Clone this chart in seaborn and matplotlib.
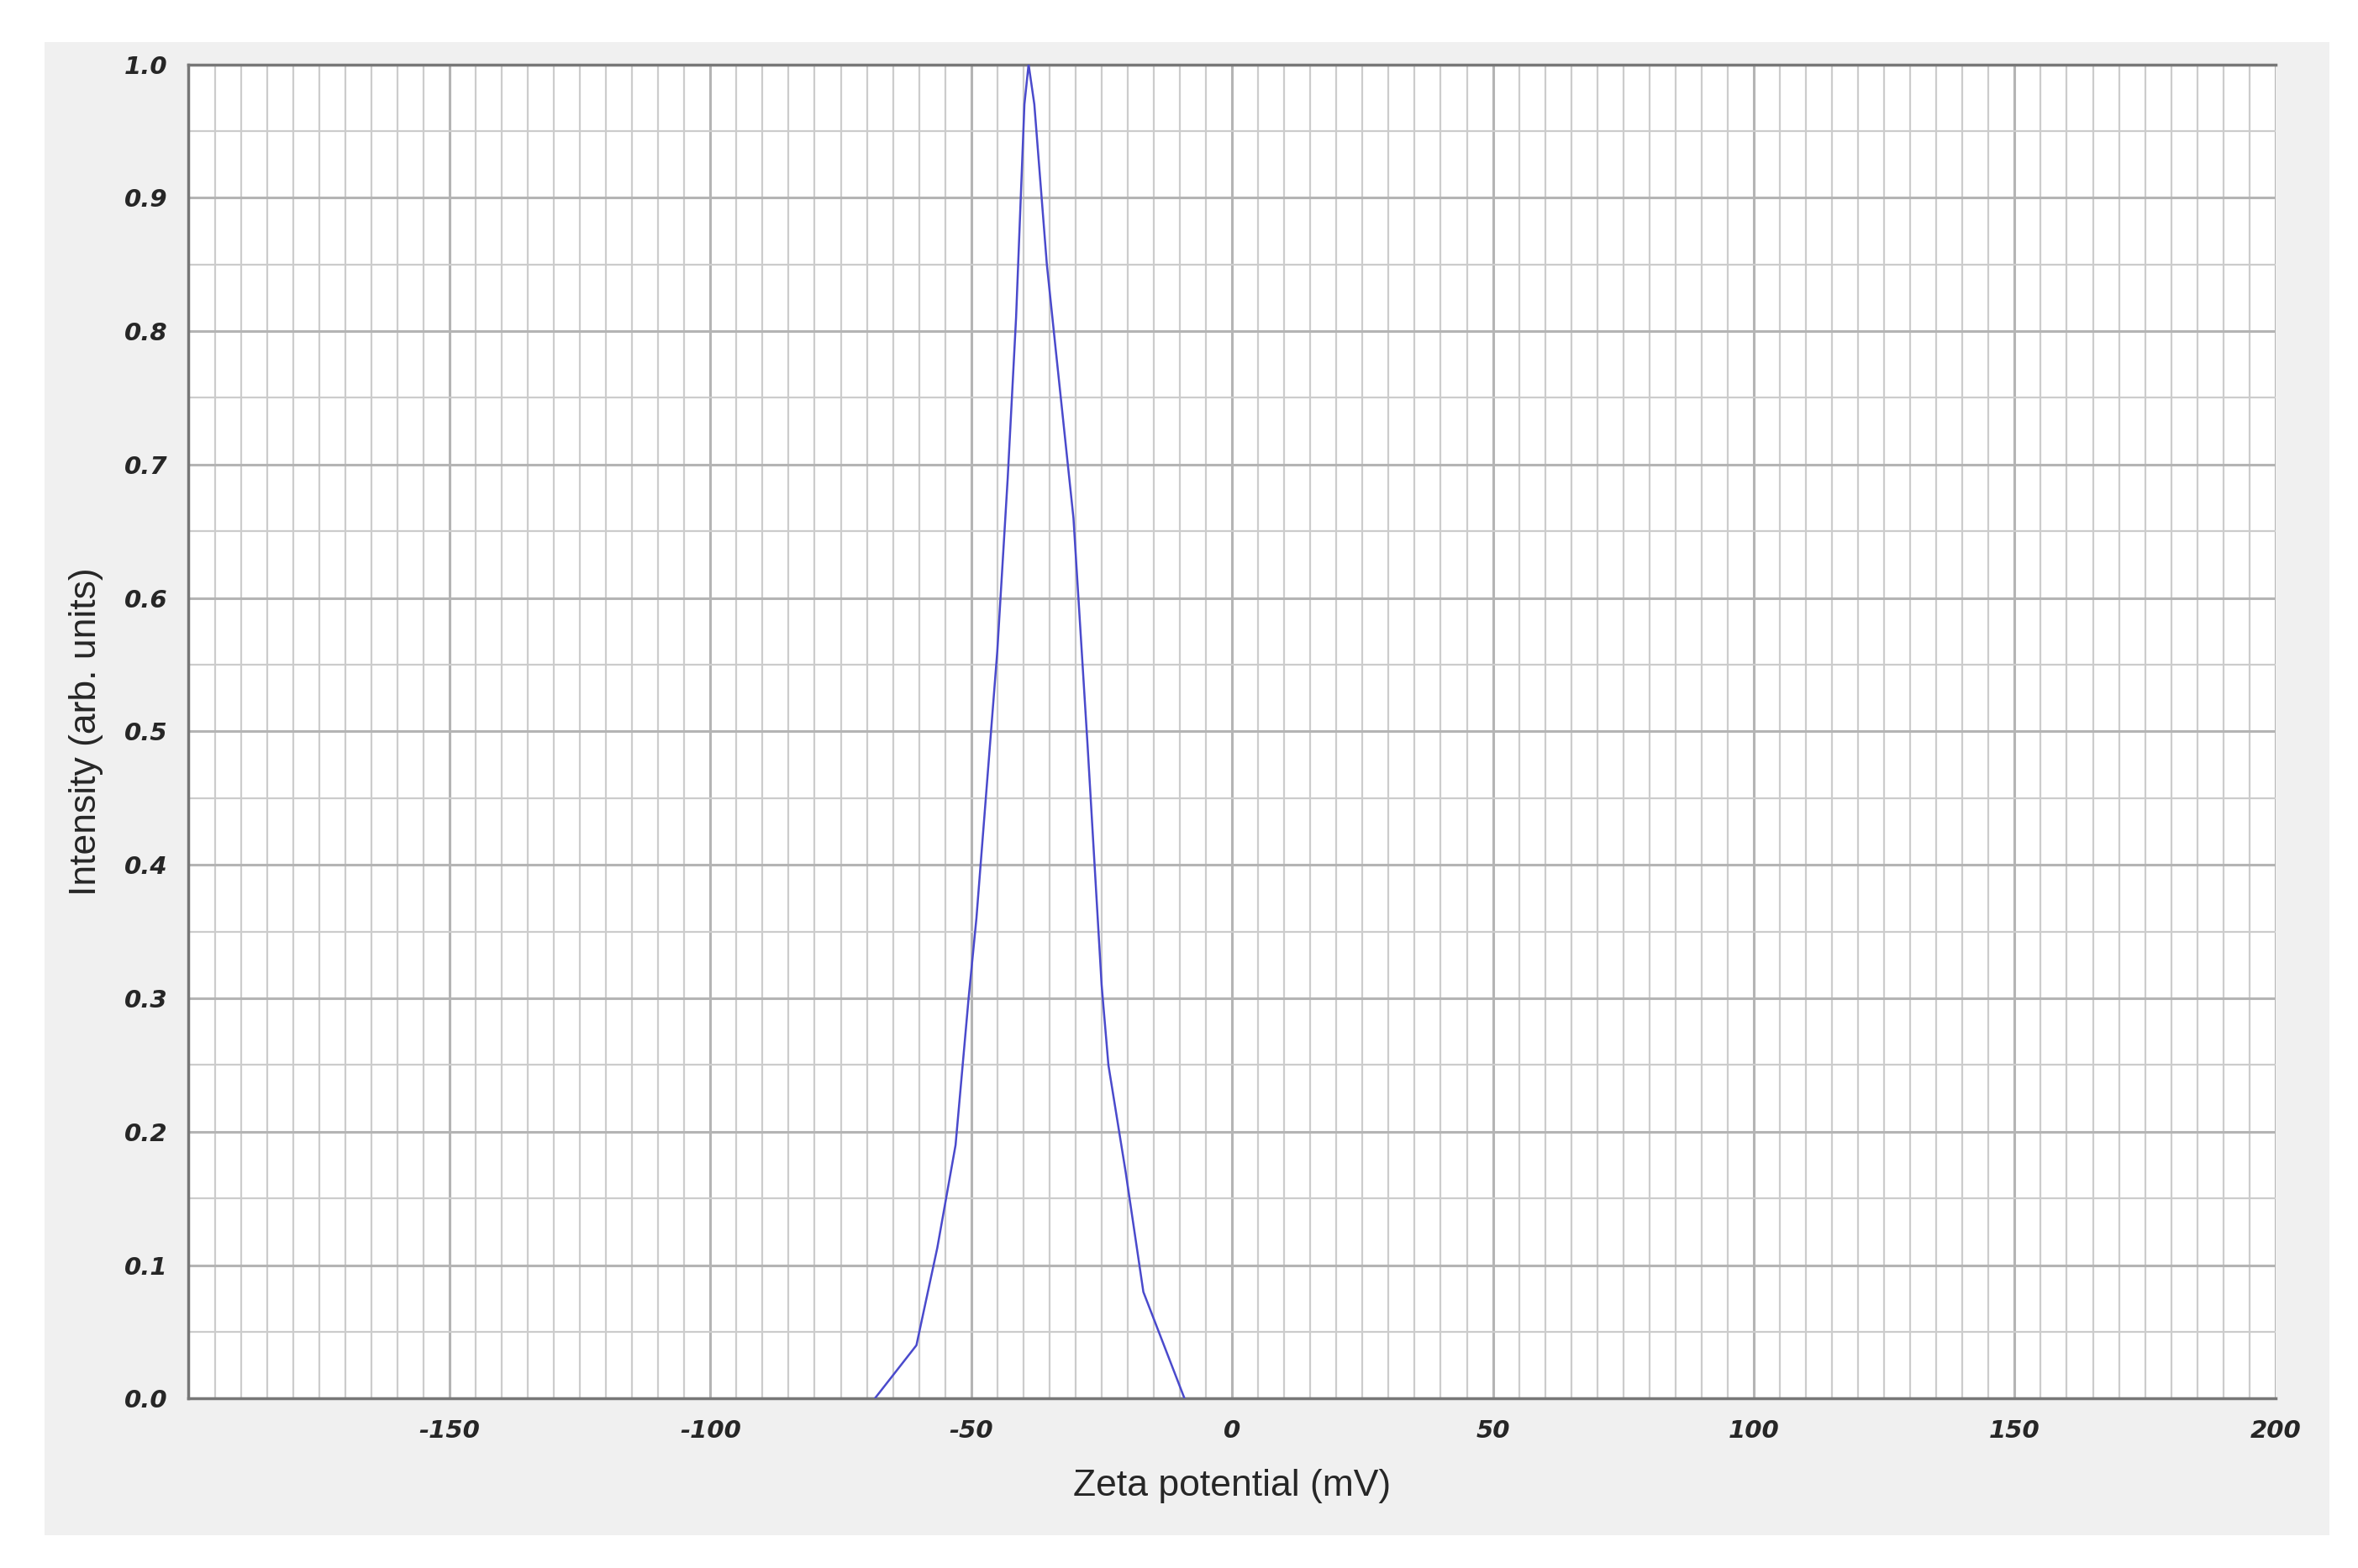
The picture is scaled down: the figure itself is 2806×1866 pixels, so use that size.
import numpy as np
import pandas as pd
import matplotlib
matplotlib.use("Agg")
import matplotlib.pyplot as plt
import seaborn as sns
from matplotlib.patches import Rectangle
from matplotlib.ticker import MultipleLocator

# zeta potential distribution
zeta_mv = [-68.5, -60.5, -56.5, -53.0, -50.5, -49.0, -45.0, -43.0, -41.4, -39.8,
           -39.0, -37.9, -35.5, -33.9, -30.4, -27.7, -25.0, -23.7, -20.4, -17.0, -9.1]
intensity = [0.0, 0.04, 0.113, 0.19, 0.30, 0.36, 0.56, 0.69, 0.81, 0.97,
             1.0, 0.97, 0.85, 0.79, 0.66, 0.49, 0.31, 0.25, 0.17, 0.08, 0.0]
x_labels = [-150, -100, -50, 0, 50, 100, 150, 200]
y_labels = [round(v * 0.1, 1) for v in range(11)]

df = pd.DataFrame({"zeta": zeta_mv, "intensity": intensity})

sns.set_style("white")
fig = plt.figure(figsize=(28.06, 18.66), dpi=100)
# grey panel behind the plot
fig.add_artist(Rectangle((0.019, 0.021), 0.969, 0.952, transform=fig.transFigure,
                         facecolor="#f0f0f0", edgecolor="none", zorder=-10))
ax = fig.add_axes([0.080, 0.108, 0.885, 0.851])
ax.set_zorder(5)
ax.set_facecolor("white")

sns.lineplot(data=df, x="zeta", y="intensity", ax=ax, color="#4a4acc", linewidth=1.8, zorder=5)

ax.set_xlim(-200, 200)
ax.set_ylim(0, 1.0)
ax.set_xticks(x_labels)
ax.set_yticks(y_labels)
ax.xaxis.set_minor_locator(MultipleLocator(5))
ax.yaxis.set_minor_locator(MultipleLocator(0.05))
ax.grid(which="major", color="#b4b4b4", linewidth=2.2)
ax.grid(which="minor", color="#cccccc", linewidth=1.6)
ax.set_axisbelow(True)

tick_font = dict(family=["Liberation Sans Narrow", "DejaVu Sans"], weight="bold", style="italic", size=21)
ax.set_xticklabels([str(v) for v in x_labels], **tick_font)
ax.set_yticklabels([f"{v:.1f}" for v in y_labels], **tick_font)
ax.tick_params(axis="both", which="major", length=12, width=2, color="#333333", pad=6)
ax.tick_params(axis="both", which="minor", length=6, width=2, color="#333333")

for side in ["left", "bottom", "top"]:
    ax.spines[side].set_color("#777777")
    ax.spines[side].set_linewidth(2.5)
ax.spines["right"].set_visible(False)

label_font = dict(family=["Liberation Sans", "DejaVu Sans"], size=32)
ax.set_xlabel("Zeta potential (mV)", labelpad=22, **label_font)
ax.set_ylabel("Intensity (arb. units)", labelpad=18, **label_font)

fig.savefig("out.png", dpi=100)
